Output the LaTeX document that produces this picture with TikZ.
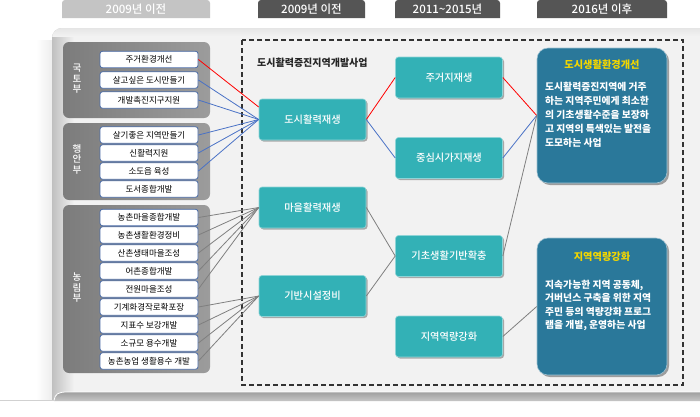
\documentclass[tikz,border=0pt]{standalone}
\usepackage{fontspec}
\setmainfont{Noto Sans CJK KR}
\IfFontExistsTF{Noto Sans CJK KR Medium}
  {\newfontfamily\medfont{Noto Sans CJK KR Medium}}
  {\newfontfamily\medfont[FakeBold=0.4]{Noto Sans CJK KR}}
\usetikzlibrary{shadows,calc}
\definecolor{tealbox}{HTML}{33B1B6}
\definecolor{bluebox}{HTML}{2A789A}
\definecolor{ttl}{HTML}{F2D600}
\definecolor{itemb}{HTML}{4A6BA6}
\definecolor{lnblue}{HTML}{4A72C6}
\definecolor{lngray}{HTML}{7F7F7F}
\definecolor{lnred}{HTML}{FF0000}
\definecolor{panel}{HTML}{F2F2F2}
\definecolor{tabdark}{HTML}{555555}
\definecolor{tablight}{HTML}{C4C4C4}
\definecolor{grpL}{HTML}{7C7C7C}
\definecolor{grpR}{HTML}{9C9C9C}
\begin{document}
\begin{tikzpicture}[x=1pt,y=-1pt,
  item/.style={draw=itemb, line width=0.8pt, fill=white, rounded corners=2.5pt,
    minimum width=98pt, minimum height=16.5pt, inner sep=0pt, font=\fontsize{8.5}{9}\selectfont},
  tbox/.style={fill=tealbox, draw=tealbox!55!white, line width=0.6pt, rounded corners=3pt,
    minimum width=107pt, minimum height=41pt, inner sep=0pt, text=white,
    font=\medfont\fontsize{10.2}{12}\selectfont,
    drop shadow={shadow xshift=1.5pt, shadow yshift=-1.5pt, fill=black, opacity=0.3}},
  bbox/.style={fill=bluebox, draw=bluebox!45!white, line width=0.6pt, rounded corners=11pt,
    minimum width=130pt, inner sep=0pt,
    drop shadow={shadow xshift=2pt, shadow yshift=-2pt, fill=black, opacity=0.35}},
  tabtext/.style={text=white, font=\medfont\fontsize{11.5}{13}\selectfont, inner sep=0pt},
  grplabel/.style={text=white, align=center, font=\medfont\fontsize{9.5}{10.5}\selectfont, inner sep=0pt},
  btitle/.style={text=ttl, font=\bfseries\fontsize{10.2}{12}\selectfont, inner sep=0pt},
  bbody/.style={text=white, align=left, anchor=north west, inner sep=0pt,
    font=\bfseries\fontsize{9.8}{14}\selectfont},
  ln/.style={line width=0.8pt}
]
\useasboundingbox (0,0) rectangle (700,416);
\fill[white] (0,0) rectangle (700,416);

% page panel
\shade[left color=white, right color=black!7] (36,40) rectangle (52,400);
\fill[panel] (52,400) [rounded corners=10pt]-- (52,28) [sharp corners]-- (700,28) -- (700,400) -- cycle;
\begin{scope}
  \clip (52,400) [rounded corners=10pt]-- (52,28) [sharp corners]-- (700,28) -- (700,400) -- cycle;
  \shade[left color=black!25, right color=panel] (52,28) rectangle (74,400);
  \shade[top color=black!10, bottom color=panel] (52,28) rectangle (700,36);
\end{scope}
\shade[top color=black!38, bottom color=black!22]
  (54,401) .. controls (55,394) and (58,392) .. (67,392) -- (700,392) -- (700,401) -- cycle;
\draw[white, line width=0.8pt] (54,400.5) .. controls (55,394) and (58,392) .. (67,392) -- (700,392);
\draw[black!18, line width=0.8pt] (0,400.5) -- (54,400.5);

% tabs
\fill[tablight] (62,18) [rounded corners=3pt]-- (62,0) -- (210,0) [sharp corners]-- (210,18) -- cycle;
\fill[tabdark] (258,18) [rounded corners=3pt]-- (258,0) -- (365,0) [sharp corners]-- (365,18) -- cycle;
\fill[tabdark] (395,18) [rounded corners=3pt]-- (395,0) -- (500,0) [sharp corners]-- (500,18) -- cycle;
\fill[tabdark] (537,18) [rounded corners=3pt]-- (537,0) -- (667,0) [sharp corners]-- (667,18) -- cycle;
\node[tabtext] (tab1) at (136,9) {2009년 이전};
\node[tabtext] (tab2) at (311.5,9) {2009년 이전};
\node[tabtext] (tab3) at (447.5,9) {2011\textasciitilde2015년};
\node[tabtext] (tab4) at (602,9) {2016년 이후};

% groups
\shade[rounded corners=6pt, left color=grpL, right color=grpR] (63,42) rectangle (210,118);
\shade[rounded corners=6pt, left color=grpL, right color=grpR] (63,123) rectangle (210,200);
\shade[rounded corners=6pt, left color=grpL, right color=grpR] (63,205) rectangle (210,373);
\node[grplabel] (g1) at (77,79) {국\\토\\부};
\node[grplabel] (g2) at (77,159) {행\\안\\부};
\node[grplabel] (g3) at (77,288) {농\\림\\부};

% items
\node[item] (i1) at (149,59.5) {주거환경개선};
\node[item] (i2) at (149,80) {살고싶은 도시만들기};
\node[item] (i3) at (149,100) {개발촉진지구지원};
\node[item] (i4) at (149,135) {살기좋은 지역만들기};
\node[item] (i5) at (149,153) {신활력지원};
\node[item] (i6) at (149,171) {소도읍 육성};
\node[item] (i7) at (149,189) {도서종합개발};
\node[item] (i8) at (149,217.5) {농촌마을종합개발};
\node[item] (i9) at (149,235) {농촌생활환경정비};
\node[item] (i10) at (149,253) {산촌생태마을조성};
\node[item] (i11) at (149,271) {어촌종합개발};
\node[item] (i12) at (149,289) {전원마을조성};
\node[item] (i13) at (149,307) {기계화경작로확포장};
\node[item] (i14) at (149,325) {지표수 보강개발};
\node[item] (i15) at (149,343) {소규모 용수개발};
\node[item] (i16) at (149,361) {농촌농업 생활용수 개발};

% dashed frame
\draw[black!80, line width=1.3pt, dash pattern=on 5pt off 3pt] (242,40) rectangle (683,385);
\node[anchor=west, inner sep=0pt, text=black!85, font=\bfseries\fontsize{10}{12}\selectfont] (frt) at (257,63) {도시활력증진지역개발사업};

% teal boxes
\node[tbox] (dosi) at (312.5,119.5) {도시활력재생};
\node[tbox] (maeul) at (312.5,207.5) {마을활력재생};
\node[tbox] (giban) at (312.5,296) {기반시설정비};
\node[tbox] (jugeo) at (449,77.5) {주거지재생};
\node[tbox] (jungsim) at (449,158) {중심시가지재생};
\node[tbox] (gicho) at (449,256) {기초생활기반확충};
\node[tbox] (yeok) at (449,336.5) {지역역량강화};

% blue boxes
\node[bbox, minimum height=135pt] (b1) at (602,115.5) {};
\node[btitle] (b1t) at (602,65) {도시생활환경개선};
\node[bbody] (b1d) at (545,82) {도시활력증진지역에 거주\\하는 지역주민에게 최소한\\의 기초생활수준을 보장하\\고 지역의 특색있는 발전을\\도모하는 사업};
\node[bbox, minimum height=137pt] (b2) at (602,306.5) {};
\node[btitle] (b2t) at (602,257) {지역역량강화};
\node[bbody, font=\bfseries\fontsize{9.8}{13.3}\selectfont] (b2d) at (545,280) {지속가능한 지역 공동체,\\거버넌스 구축을 위한 지역\\주민 등의 역량강화 프로그\\램을 개발, 운영하는 사업};

% connectors
\coordinate (dA) at ([yshift=12.5pt]dosi.west);
\draw[ln, lnred] (i1.east) -- (dA);
\foreach \i in {i2,i3,i4,i5,i6} \draw[ln, lnblue] (\i.east) -- (dosi.west);
\foreach \i in {i8,i9,i10,i11,i12} \draw[ln, lngray] (\i.east) -- (maeul.west);
\foreach \i in {i13,i14,i15,i16} \draw[ln, lngray] (\i.east) -- (giban.west);
\draw[ln, lnred] (dosi.east) -- (jugeo.west);
\draw[ln, lnblue] (dosi.east) -- (jungsim.west);
\draw[ln, lngray] (maeul.east) -- (gicho.west);
\draw[ln, lngray] (giban.east) -- (gicho.west);
\draw[ln, lnred] (jugeo.east) -- (b1.west);
\draw[ln, lnblue] (jungsim.east) -- (b1.west);
\draw[ln, lngray] (gicho.east) -- (b1.west);
\draw[ln, lngray] (yeok.east) -- (b2.west);
\end{tikzpicture}
\end{document}
